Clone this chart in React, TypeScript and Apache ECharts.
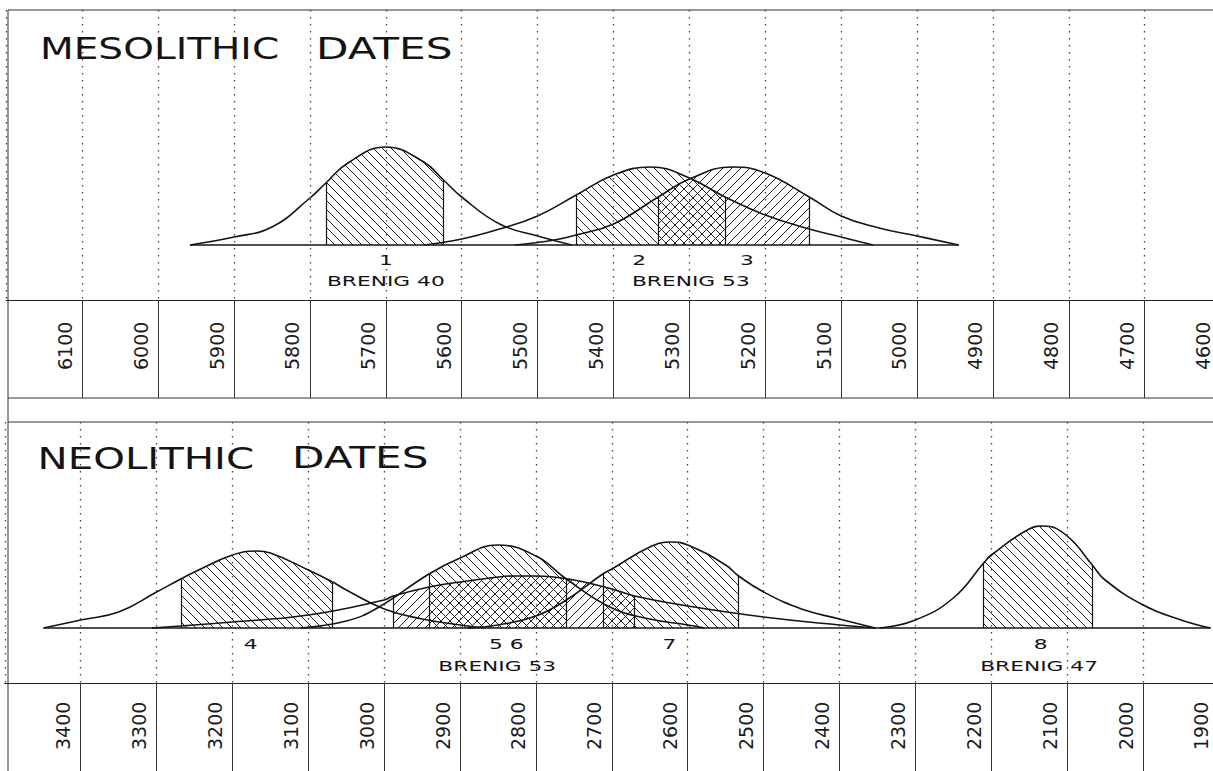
import React, { useEffect, useRef } from "react";
import * as echarts from "echarts";

// ---------- axis ranges (years BC, time runs left to right) ----------
const mesoAxisMin = 4500;
const mesoAxisMax = 6200;
const neoAxisMin = 1800;
const neoAxisMax = 3500;
const axisStep = 100;

// ---------- curves: [year BC, relative height] ----------
// Mesolithic
const curve1: [number, number][] = [
  [5958, 0], [5900, 8], [5850, 18], [5800, 47], [5779, 62], [5750, 82], [5700, 98],
  [5650, 83], [5624, 65], [5600, 48], [5550, 21], [5500, 9], [5455, 0],
];
const curve2: [number, number][] = [
  [5650, 0], [5600, 6], [5550, 16], [5500, 29], [5449, 50], [5400, 70], [5351, 78],
  [5300, 67], [5253, 48], [5200, 30], [5142, 16], [5100, 8], [5058, 0],
];
const curve3: [number, number][] = [
  [5530, 0], [5478, 5], [5449, 10], [5400, 21], [5341, 48], [5300, 66], [5243, 78],
  [5200, 72], [5142, 48], [5100, 29], [5050, 17], [5000, 9], [4945, 0],
];
// Neolithic
const curve4: [number, number][] = [
  [3449, 0], [3400, 8], [3350, 16], [3300, 36], [3268, 49], [3250, 56], [3200, 73],
  [3168, 77], [3150, 75], [3100, 58], [3068, 46], [3050, 38], [3000, 19], [2950, 9],
  [2900, 3], [2868, 0],
];
const curve5: [number, number][] = [
  [3110, 0], [3050, 7], [3009, 20], [2941, 54], [2900, 70], [2851, 83], [2800, 72],
  [2760, 49], [2700, 20], [2650, 9], [2600, 3], [2578, 0],
];
const curve6: [number, number][] = [
  [3306, 0], [3200, 6], [3100, 13], [3000, 28], [2988, 32], [2941, 41], [2900, 46],
  [2850, 51], [2829, 52], [2800, 52], [2750, 48], [2700, 39], [2670, 32], [2600, 22],
  [2500, 11], [2400, 3], [2352, 0],
];
const curve7: [number, number][] = [
  [2890, 0], [2850, 3], [2800, 12], [2760, 28], [2712, 54], [2700, 59], [2650, 81],
  [2622, 86], [2600, 83], [2550, 63], [2533, 52], [2500, 36], [2450, 19], [2400, 9],
  [2353, 0],
];
const curve8: [number, number][] = [
  [2347, 0], [2300, 8], [2250, 30], [2210, 65], [2200, 73], [2150, 99], [2131, 102],
  [2100, 92], [2067, 63], [2050, 48], [2000, 23], [1950, 8], [1911, 0],
];

// one-sigma (hatched) ranges [older, younger]
const hatch1 = [5779, 5624];
const hatch2 = [5449, 5253];
const hatch3 = [5341, 5142];
const hatch4 = [3268, 3068];
const hatch5 = [2941, 2760];
const hatch6 = [2988, 2670];
const hatch7 = [2712, 2533];
const hatch8 = [2210, 2067];

// labels: [text, year]
const mesoNumberLabels: [string, number][] = [["1", 5700], ["2", 5366], ["3", 5224]];
const mesoSiteLabels: [string, number][] = [["BRENIG 40", 5700], ["BRENIG 53", 5298]];
const neoNumberLabels: [string, number][] = [["4", 3176], ["5 6", 2839], ["7", 2624], ["8", 2135]];
const neoSiteLabels: [string, number][] = [["BRENIG 53", 2851], ["BRENIG 47", 2137]];

const mesoTitle = ["MESOLITHIC", "DATES"];
const neoTitle = ["NEOLITHIC", "DATES"];

// ---------- styling ----------
const INK = "#141414";
const FONT = "'DejaVu Sans', 'Liberation Sans', sans-serif";

function makeHatch(dir: number) {
  const s = 9;
  const c = document.createElement("canvas");
  c.width = s;
  c.height = s;
  const ctx = c.getContext("2d")!;
  ctx.strokeStyle = "#222";
  ctx.lineWidth = 1;
  for (let k = -1; k <= 1; k++) {
    ctx.beginPath();
    if (dir > 0) {
      ctx.moveTo(k * s, 0);
      ctx.lineTo(k * s + s, s);
    } else {
      ctx.moveTo(k * s, s);
      ctx.lineTo(k * s + s, 0);
    }
    ctx.stroke();
  }
  return { image: c, repeat: "repeat", imageWidth: s, imageHeight: s };
}

export default function App() {
  const ref = useRef<HTMLDivElement>(null);

  useEffect(() => {
    if (!ref.current) return;
    const chart = echarts.init(ref.current, null, { renderer: "svg" });
    const back = makeHatch(1);
    const fwd = makeHatch(-1);

    const mesoCurves = [
      { pts: curve1, edges: hatch1, pat: back },
      { pts: curve2, edges: hatch2, pat: back },
      { pts: curve3, edges: hatch3, pat: fwd },
    ];
    const neoCurves = [
      { pts: curve4, edges: hatch4, pat: back },
      { pts: curve5, edges: hatch5, pat: back },
      { pts: curve6, edges: hatch6, pat: fwd },
      { pts: curve7, edges: hatch7, pat: back },
      { pts: curve8, edges: hatch8, pat: back },
    ];

    const series: any[] = [];
    const SMOOTH = 0.45;
    const addPanel = (curves: any[], idx: number) => {
      const years = curves.flatMap((c) => c.pts.map((p: number[]) => p[0]));
      series.push({
        type: "line",
        xAxisIndex: idx,
        yAxisIndex: idx,
        data: [[Math.max(...years), 0], [Math.min(...years), 0]],
        symbol: "none",
        silent: true,
        lineStyle: { color: INK, width: 1.7 },
        z: 5,
      });
      curves.forEach((c) => {
        const [eL, eR] = c.edges;
        const hL = c.pts.find((p: number[]) => p[0] === eL)[1];
        const hR = c.pts.find((p: number[]) => p[0] === eR)[1];
        series.push({
          type: "line",
          xAxisIndex: idx,
          yAxisIndex: idx,
          data: c.pts.filter((p: number[]) => p[0] <= eL && p[0] >= eR),
          smooth: SMOOTH,
          symbol: "none",
          silent: true,
          lineStyle: { opacity: 0, width: 0 },
          areaStyle: { color: c.pat, opacity: 1 },
          z: 2,
          markLine: {
            silent: true,
            symbol: ["none", "none"],
            label: { show: false },
            lineStyle: { color: INK, width: 1.2, type: "solid" },
            data: [
              [{ coord: [eL, 0] }, { coord: [eL, hL] }],
              [{ coord: [eR, 0] }, { coord: [eR, hR] }],
            ],
          },
        });
        series.push({
          type: "line",
          xAxisIndex: idx,
          yAxisIndex: idx,
          data: c.pts,
          smooth: SMOOTH,
          symbol: "none",
          silent: true,
          lineStyle: { color: INK, width: 1.6 },
          z: 4,
        });
      });
    };
    addPanel(mesoCurves, 0);
    addPanel(neoCurves, 1);

    const xAxisBase = (min: number, max: number, grid: number, tickLen: number, margin: number) => ({
      type: "value",
      gridIndex: grid,
      min,
      max,
      interval: axisStep,
      inverse: true,
      axisLine: { show: true, onZero: false, lineStyle: { color: "#222", width: 1.2 } },
      axisTick: { show: true, length: tickLen, lineStyle: { color: "#333", width: 1 } },
      axisLabel: {
        show: true,
        rotate: 90,
        align: "left",
        verticalAlign: "bottom",
        lineHeight: 35,
        margin,
        fontSize: 19,
        fontFamily: FONT,
        color: "#1c1c1c",
        showMinLabel: false,
        showMaxLabel: false,
        hideOverlap: false,
        formatter: (v: number) => String(v),
      },
      splitLine: { show: true, lineStyle: { type: [1.5, 5.5], color: "#444", width: 1.3 } },
    });

    const option: any = {
      animation: false,
      backgroundColor: "#ffffff",
      grid: [
        { left: 6.4, width: 1290, top: 10, height: 290, containLabel: false, outerBoundsMode: "none" },
        { left: 4.8, width: 1290, top: 422, height: 261, containLabel: false, outerBoundsMode: "none" },
      ],
      xAxis: [
        xAxisBase(mesoAxisMin, mesoAxisMax, 0, 98, 70),
        xAxisBase(neoAxisMin, neoAxisMax, 1, 100, 67),
      ],
      yAxis: [
        { type: "value", gridIndex: 0, min: -55, max: 235, show: false },
        { type: "value", gridIndex: 1, min: -55, max: 206, show: false },
      ],
      series,
    };
    chart.setOption(option);

    const graphics: any[] = [];
    const frame = { stroke: "#333", lineWidth: 1 };
    graphics.push({ type: "line", silent: true, shape: { x1: 8, y1: 10, x2: 8, y2: 771 }, style: frame });
    graphics.push({ type: "line", silent: true, shape: { x1: 8, y1: 10, x2: 1213, y2: 10 }, style: frame });
    graphics.push({ type: "line", silent: true, shape: { x1: 8, y1: 398, x2: 1213, y2: 398 }, style: frame });
    graphics.push({ type: "line", silent: true, shape: { x1: 8, y1: 422, x2: 1213, y2: 422 }, style: frame });

    const title = (text: string, x: number, y: number, sx: number) => ({
      type: "text",
      silent: true,
      x,
      y,
      scaleX: sx,
      style: { text, fontSize: 31, fontFamily: FONT, fill: INK, align: "left", verticalAlign: "middle" },
    });
    graphics.push(title(mesoTitle[0], 40, 48.5, 1.26));
    graphics.push(title(mesoTitle[1], 316, 48.5, 1.36));
    graphics.push(title(neoTitle[0], 37.6, 458, 1.3));
    graphics.push(title(neoTitle[1], 292, 458, 1.36));

    const small = (text: string, x: number, y: number) => ({
      type: "text",
      silent: true,
      x,
      y,
      scaleX: 1.5,
      style: { text, fontSize: 14.5, fontFamily: FONT, fill: INK, align: "center", verticalAlign: "middle" },
    });
    const addLabels = (nums: [string, number][], sites: [string, number][], grid: number, dyNum: number, dySite: number) => {
      nums.forEach(([t, yr]) => {
        const p = chart.convertToPixel({ gridIndex: grid }, [yr, 0]) as number[];
        graphics.push(small(t, p[0], p[1] + dyNum));
      });
      sites.forEach(([t, yr]) => {
        const p = chart.convertToPixel({ gridIndex: grid }, [yr, 0]) as number[];
        graphics.push(small(t, p[0], p[1] + dySite));
      });
    };
    addLabels(mesoNumberLabels, mesoSiteLabels, 0, 15, 36);
    addLabels(neoNumberLabels, neoSiteLabels, 1, 16, 38);

    chart.setOption({ graphic: graphics });

    return () => chart.dispose();
  }, []);

  return (
    <div
      ref={ref}
      style={{ position: "absolute", left: 0, top: 0, width: 1213, height: 771, background: "#fff" }}
    />
  );
}
